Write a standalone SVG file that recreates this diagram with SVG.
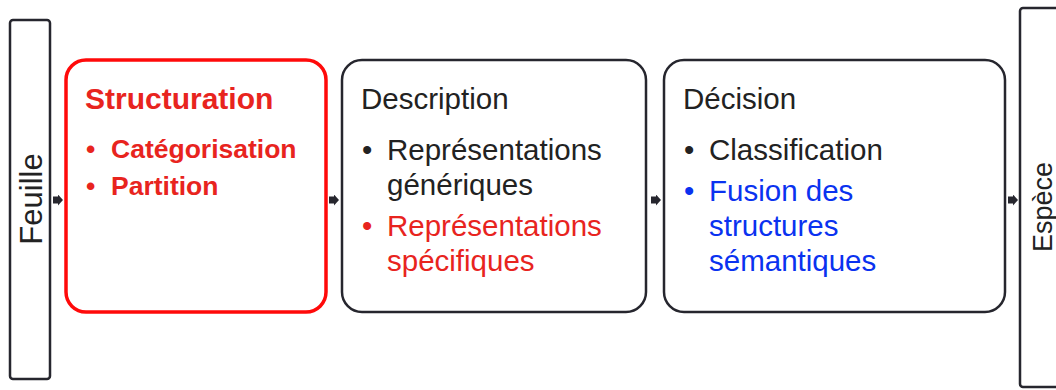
<svg xmlns="http://www.w3.org/2000/svg" width="1056" height="390" viewBox="0 0 1056 390">
<defs>
<style>
.box{fill:#fff;stroke:#26262e;stroke-width:2.5}
.red{stroke:#ff0a0a;stroke-width:3.5}
text{font-family:"Liberation Sans",Arial,sans-serif;font-size:29.5px;fill:#222}
.r{fill:#e8241e}
.b{fill:#0a32f0}
.bold{font-weight:bold}
.conn{stroke:#26262e;stroke-width:7;fill:none}
</style>
<marker id="ah" markerUnits="userSpaceOnUse" markerWidth="6" markerHeight="11" refX="0" refY="5.5" orient="auto">
<path d="M0,0 L5,5.5 L0,11 z" fill="#26262e"/>
</marker>
</defs>
<rect width="1056" height="390" fill="#fff"/>
<g id="feuille">
<rect class="box" x="10" y="20" width="40" height="359" rx="3"/>
<text transform="translate(42,199) rotate(-90)" text-anchor="middle" style="font-size:31px">Feuille</text>
</g>
<g id="structuration">
<rect class="box red" x="66" y="60" width="260" height="252" rx="20"/>
<text class="r bold" x="85" y="109" style="font-size:30px">Structuration</text>
<text class="r bold" x="86" y="158" style="font-size:26.5px">•</text>
<text class="r bold" x="111" y="158" style="font-size:26.5px">Catégorisation</text>
<text class="r bold" x="86" y="195" style="font-size:26.5px">•</text>
<text class="r bold" x="111" y="195" style="font-size:26.5px">Partition</text>
</g>
<g id="description">
<rect class="box" x="342" y="60" width="304" height="252" rx="20"/>
<text x="361" y="109">Description</text>
<text x="362" y="160">•</text>
<text x="387" y="160">Représentations</text>
<text x="387" y="195">génériques</text>
<text class="r" x="362" y="236">•</text>
<text class="r" x="387" y="236">Représentations</text>
<text class="r" x="387" y="271">spécifiques</text>
</g>
<g id="decision">
<rect class="box" x="664" y="60" width="341" height="252" rx="20"/>
<text x="683" y="109">Décision</text>
<text x="684" y="160">•</text>
<text x="709" y="160">Classification</text>
<text class="b" x="684" y="201">•</text>
<text class="b" x="709" y="201">Fusion des</text>
<text class="b" x="709" y="236">structures</text>
<text class="b" x="709" y="271">sémantiques</text>
</g>
<g id="espece">
<rect class="box" x="1020" y="8" width="50" height="379" rx="3"/>
<text transform="translate(1052,207) rotate(-90)" text-anchor="middle" style="font-size:27px">Espèce</text>
</g>
<g id="connectors">
<line class="conn" x1="53" y1="200" x2="58" y2="200" marker-end="url(#ah)"/>
<line class="conn" x1="329" y1="200" x2="334" y2="200" marker-end="url(#ah)"/>
<line class="conn" x1="651" y1="200" x2="656" y2="200" marker-end="url(#ah)"/>
<line class="conn" x1="1008" y1="200" x2="1013" y2="200" marker-end="url(#ah)"/>
</g>
</svg>
